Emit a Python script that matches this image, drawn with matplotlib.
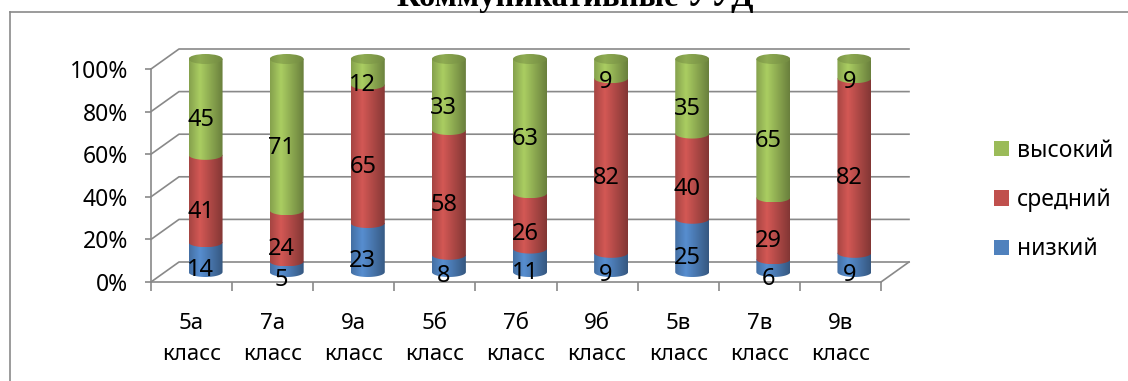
import numpy as np
import matplotlib
matplotlib.use("Agg")
import matplotlib.pyplot as plt
from matplotlib.colors import to_rgb
from matplotlib.path import Path
from matplotlib.patches import PathPatch, Ellipse, Patch
from matplotlib.lines import Line2D

plt.rcParams['font.family'] = ['Noto Sans', 'DejaVu Sans']

# данные по классам (количество учащихся по уровням)
classes = ["5а\nкласс", "7а\nкласс", "9а\nкласс", "5б\nкласс", "7б\nкласс",
           "9б\nкласс", "5в\nкласс", "7в\nкласс", "9в\nкласс"]
low = [14, 5, 23, 8, 11, 9, 25, 6, 9]
mid = [41, 24, 65, 58, 26, 82, 40, 29, 82]
high = [45, 71, 12, 33, 63, 9, 35, 65, 9]
levels = ["низкий", "средний", "высокий"]
colors = ["#4F81BD", "#C0504D", "#9BBB59"]
yticks = [0, 20, 40, 60, 80, 100]

W, H = 1128, 381
fig = plt.figure(figsize=(W / 100, H / 100), dpi=100)
n = len(classes)

# передняя плоскость диаграммы
x_left, x_right = 151, 881
y_zero, y_full = 282, 69
ax = fig.add_axes([x_left / W, (H - y_zero) / H,
                   (x_right - x_left) / W, (y_zero - y_full) / H])
ax.set_xlim(0, n)
ax.set_ylim(0, 100)
ax.patch.set_visible(False)

# перевод пикселей в единицы данных
ux = (x_right - x_left) / n
uy = (y_zero - y_full) / 100
dep_x, dep_y = 28 / ux, 20 / uy          # глубина "3D"-стенки
rx, ry = 17 / ux, 5 / uy                 # радиус цилиндра и полуось эллипса
lab_dx, lab_dy = 9 / ux, 3 / uy

# отдельные оси для цилиндров, с тем же масштабом, но с запасом сверху/снизу
lo, hi = -10, 120
ax2 = fig.add_axes([x_left / W, (H - y_zero + lo * uy) / H,
                    (x_right - x_left) / W, (hi - lo) * uy / H])
ax2.set_xlim(0, n)
ax2.set_ylim(lo, hi)
ax2.axis('off')

grid_c = "#898989"

# боковая и задняя стенки
for v in yticks:
    ax.plot([0, dep_x, n + dep_x], [v, v + dep_y, v + dep_y],
            color=grid_c, lw=1.2, clip_on=False, zorder=1)
ax.plot([n, n + dep_x], [0, dep_y], color=grid_c, lw=1.2, clip_on=False, zorder=1)


def shade_img(color, box, zorder, clip, prof=(0.86, 1.1, 0.68)):
    t = np.linspace(0, 1, 80)
    f = np.interp(t, [0, 0.32, 1], prof)
    rgb = np.clip(np.array(to_rgb(color))[None, :] * f[:, None], 0, 1)
    im = ax2.imshow(rgb[None, :, :], extent=box, aspect='auto',
                    origin='lower', zorder=zorder, interpolation='bilinear')
    im.set_clip_path(clip)


def segment_path(xc, y0, y1):
    th = np.linspace(np.pi, 2 * np.pi, 40)
    ex = xc + rx * np.cos(th)
    ey = y0 + ry * np.sin(th)
    verts = [(xc - rx, y1)] + list(zip(ex, ey)) + [(xc + rx, y1), (xc - rx, y1)]
    codes = [Path.MOVETO] + [Path.LINETO] * (len(verts) - 2) + [Path.CLOSEPOLY]
    return Path(verts, codes)


series = [low, mid, high]
totals = np.array(low) + np.array(mid) + np.array(high)
for i in range(n):
    xc = i + 0.5 + dep_x / 2
    base = 0.0
    for k, vals in enumerate(series):
        h = vals[i] / totals[i] * 100
        y0 = base + dep_y / 2
        y1 = base + h + dep_y / 2
        patch = PathPatch(segment_path(xc, y0, y1), facecolor='none',
                          edgecolor='none')
        ax2.add_patch(patch)
        shade_img(colors[k], [xc - rx, xc + rx, y0 - ry, y1], 3 + k, patch)
        ax2.text(i + 0.5 + lab_dx, base + h / 2 - lab_dy, str(vals[i]),
                 ha='center', va='center', fontsize=17, zorder=20)
        base += h
    ytop = base + dep_y / 2
    cap = Ellipse((xc, ytop), 2 * rx, 2 * ry, facecolor='none',
                  edgecolor='none')
    ax2.add_patch(cap)
    shade_img(colors[-1], [xc - rx, xc + rx, ytop - ry, ytop + ry], 8, cap,
              prof=(0.8, 0.92, 0.74))

ax2.set_xlim(0, n)
ax2.set_ylim(lo, hi)

# оси
for s in ['top', 'right']:
    ax.spines[s].set_visible(False)
for s in ['left', 'bottom']:
    ax.spines[s].set_color(grid_c)
    ax.spines[s].set_linewidth(1.2)
    ax.spines[s].set_zorder(2)

ax.set_yticks(yticks)
ax.set_yticklabels([f"{v}%" for v in yticks])
ax.tick_params(axis='y', length=4.5, width=1.2, pad=12, color=grid_c,
               labelsize=16.5)
ax.set_xticks(np.arange(n + 1))
ax.set_xticklabels([])
ax.tick_params(axis='x', which='major', length=6.5, width=1.2, color=grid_c)
ax.set_xticks(np.arange(n) + 0.5, minor=True)
ax.set_xticklabels(classes, minor=True, linespacing=1.58)
ax.tick_params(axis='x', which='minor', length=0, pad=22.5, labelsize=16)

# легенда
handles = [Patch(facecolor=c) for c in colors[::-1]]
fig.legend(handles, levels[::-1], loc='center left',
           bbox_to_anchor=(994 / W, 1 - 200 / H), frameon=False, fontsize=16.5,
           handlelength=0.65, handleheight=0.65, handletextpad=0.35,
           labelspacing=1.1, borderpad=0, borderaxespad=0)

# рамка и заголовок
fig.add_artist(Line2D([10 / W, 10 / W], [0, 1 - 12 / H], color="#8a8a8a",
                      lw=1.2, transform=fig.transFigure))
fig.add_artist(Line2D([10 / W, 1], [1 - 12 / H, 1 - 12 / H], color="#8a8a8a",
                      lw=1.2, transform=fig.transFigure))
fig.text(575 / W, 1 - 6 / H, "Коммуникативные УУД", ha='center',
         va='baseline', fontfamily='Liberation Serif', fontweight='bold',
         fontsize=23.5)

fig.savefig("out.png", dpi=100)
